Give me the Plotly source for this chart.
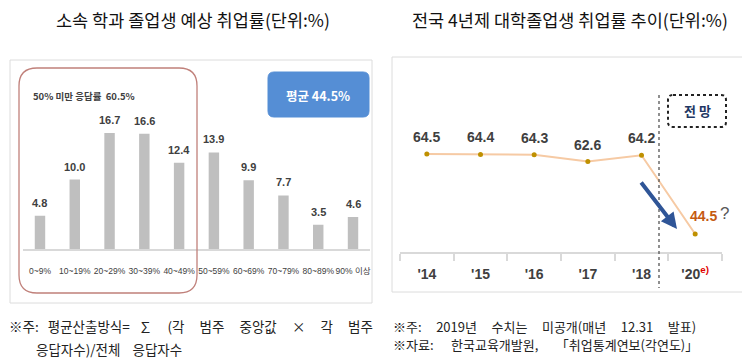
import plotly.graph_objects as go

# page is drawn with an 8px body margin: size the figure to the visible area
OFF = 8
W, H = 750 - OFF, 359 - OFF

# ---------------- data ----------------
left_categories = ["0~9%", "10~19%", "20~29%", "30~39%", "40~49%",
                   "50~59%", "60~69%", "70~79%", "80~89%", "90% 이상"]
left_values = [4.8, 10.0, 16.7, 16.6, 12.4, 13.9, 9.9, 7.7, 3.5, 4.6]

right_categories = ["'14", "'15", "'16", "'17", "'18",
                    "'20<sup><span style='color:#e00000'>e)</span></sup>"]
right_values = [64.5, 64.4, 64.3, 62.6, 64.2, 44.5]

left_title = "소속 학과 졸업생 예상 취업률(단위:%)"
right_title = "전국 4년제 대학졸업생 취업률 추이(단위:%)"
avg_text = "평균 44.5%"
under50_text = "50% 미만 응답률  60.5%"
forecast_text = "전 망"
SP = "\u00a0"
note_left_1 = f"※주:{SP*3}평균산출방식={SP*3}∑{SP*5}(각{SP*5}범주{SP*5}중앙값{SP*5}×{SP*5}각{SP*5}범주"
note_left_2 = f"응답자수)/전체{SP*4}응답자수"
note_right_1 = f"※주:{SP*5}2019년{SP*5}수치는{SP*5}미공개(매년{SP*5}12.31{SP*5}발표)"
note_right_2 = f"※자료:{SP*6}한국교육개발원,{SP*6}「취업통계연보(각연도)」"

KR = "Noto Sans CJK KR"
LAT = "Liberation Sans, Arial, Noto Sans CJK KR, sans-serif"


def X(px):
    return (px - OFF) / W


def Y(py):
    return 1 - (py - OFF) / H


def rrect(x0, y0, x1, y1, r):
    return (f"M {X(x0 + r)},{Y(y0)} L {X(x1 - r)},{Y(y0)} "
            f"Q {X(x1)},{Y(y0)} {X(x1)},{Y(y0 + r)} L {X(x1)},{Y(y1 - r)} "
            f"Q {X(x1)},{Y(y1)} {X(x1 - r)},{Y(y1)} L {X(x0 + r)},{Y(y1)} "
            f"Q {X(x0)},{Y(y1)} {X(x0)},{Y(y1 - r)} L {X(x0)},{Y(y0 + r)} "
            f"Q {X(x0)},{Y(y0)} {X(x0 + r)},{Y(y0)} Z")


def paper_text(x, y, text, size, color, family=KR, weight="normal", xanchor="center"):
    return dict(x=X(x), y=Y(y), xref="paper", yref="paper", text=text,
                xanchor=xanchor, yanchor="middle", showarrow=False, borderpad=0,
                font=dict(family=family, size=size, color=color, weight=weight))


fig = go.Figure()

# left bar chart
fig.add_trace(go.Bar(
    x=left_categories, y=left_values, xaxis="x", yaxis="y",
    marker=dict(color="#bfbfbf", line=dict(width=0)), width=0.3,
    showlegend=False, hoverinfo="x+y"))

# right line chart
fig.add_trace(go.Scatter(
    x=right_categories, y=right_values, xaxis="x2", yaxis="y2",
    mode="lines+markers",
    line=dict(color="#f6caa4", width=2),
    marker=dict(color="#bf9000", size=5),
    showlegend=False))

annotations = []
for c, v in zip(left_categories, left_values):
    annotations.append(dict(
        x=c, y=v, xref="x", yref="y", text=f"{v:.1f}", showarrow=False,
        xanchor="center", yanchor="bottom", yshift=5,
        font=dict(family=LAT, size=11, color="#404040", weight="bold")))

for c, v in zip(right_categories[:-1], right_values[:-1]):
    annotations.append(dict(
        x=c, y=v, xref="x2", yref="y2", text=f"{v:.1f}", showarrow=False,
        xanchor="center", yanchor="bottom", yshift=7,
        font=dict(family=LAT, size=14, color="#404040", weight="bold")))

annotations.append(dict(
    x=right_categories[-1], y=right_values[-1], xref="x2", yref="y2",
    text=f"{right_values[-1]:.1f}", showarrow=False, xanchor="center", yanchor="middle",
    xshift=8, yshift=18,
    font=dict(family=LAT, size=14, color="#c55a11", weight="bold")))
annotations.append(dict(
    x=right_categories[-1], y=right_values[-1], xref="x2", yref="y2",
    text="?", showarrow=False, xanchor="center", yanchor="middle",
    xshift=29, yshift=21,
    font=dict(family=LAT, size=17, color="#595959")))

# titles
annotations.append(paper_text(193, 19, left_title, 17.5, "#111111"))
annotations.append(paper_text(570, 19, right_title, 17.5, "#111111"))

# boxes text
annotations.append(paper_text(318, 95, avg_text, 12.5, "white", weight="bold"))
annotations.append(paper_text(32, 96, under50_text, 9.5, "#404040", weight="bold", xanchor="left"))
annotations.append(paper_text(697, 111, forecast_text, 13, "#1f3864", weight="bold"))

# arrow
annotations.append(dict(x=X(677), y=Y(229), xref="paper", yref="paper",
                        ax=-37, ay=-48, axref="pixel", ayref="pixel",
                        text="", showarrow=True, arrowhead=2, arrowsize=0.8,
                        arrowwidth=4, arrowcolor="#2f5597"))

# notes
annotations.append(paper_text(8, 326, note_left_1, 13.5, "#222222", xanchor="left"))
annotations.append(paper_text(35, 349, note_left_2, 13.5, "#222222", xanchor="left"))
annotations.append(paper_text(392, 326, note_right_1, 13, "#222222", xanchor="left"))
annotations.append(paper_text(392, 344, note_right_2, 13, "#222222", xanchor="left"))

shapes = [
    # panel borders
    dict(type="rect", xref="paper", yref="paper", x0=X(10), x1=X(372), y0=Y(303), y1=Y(60),
         line=dict(color="#dcdcdc", width=1)),
    dict(type="rect", xref="paper", yref="paper", x0=X(392), x1=X(743), y0=Y(292), y1=Y(57),
         line=dict(color="#dcdcdc", width=1)),
    # rounded highlight box
    dict(type="path", xref="paper", yref="paper", path=rrect(19, 68, 197, 293, 18),
         line=dict(color="#c0807a", width=1.3)),
    # average box
    dict(type="path", xref="paper", yref="paper", path=rrect(268, 72, 369, 117, 6),
         fillcolor="#558ed5", line=dict(color="#558ed5", width=1)),
    # forecast box
    dict(type="path", xref="paper", yref="paper", path=rrect(668, 95, 726, 127, 5),
         line=dict(color="#222222", width=2, dash="dot")),
    # forecast divider
    dict(type="line", xref="paper", yref="paper", x0=X(659), x1=X(659), y0=Y(95), y1=Y(288),
         line=dict(color="#555555", width=1.3, dash="dot")),
]

fig.update_layout(
    width=W, height=H, margin=dict(l=0, r=0, t=0, b=0, autoexpand=False),
    paper_bgcolor="white", plot_bgcolor="rgba(0,0,0,0)",
    xaxis=dict(domain=[X(22.6), X(370.4)], range=[-0.5, 9.5], type="category",
               showline=True, linecolor="#d9d9d9", linewidth=2, showgrid=False,
               ticks="", tickangle=0, automargin=False, ticklabelstandoff=13,
               tickfont=dict(family=LAT, size=8.5, color="#404040")),
    yaxis=dict(domain=[Y(249), Y(60)], range=[0, (249 - 60) / 6.95], visible=False),
    xaxis2=dict(domain=[X(400), X(722)], range=[-0.5, 5.5], type="category", anchor="y2",
                showline=True, linecolor="#d9d9d9", linewidth=2, showgrid=False,
                ticks="outside", tickson="boundaries", ticklen=7, tickcolor="#d9d9d9",
                tickwidth=2, tickangle=0, automargin=False, ticklabelstandoff=8,
                tickfont=dict(family=LAT, size=14, color="#404040", weight="bold")),
    yaxis2=dict(domain=[Y(252), Y(57)], range=[40, 40 + (252 - 57) / 4.0], visible=False,
                anchor="x2"),
    annotations=annotations, shapes=shapes,
)

fig.write_html("out.html")
